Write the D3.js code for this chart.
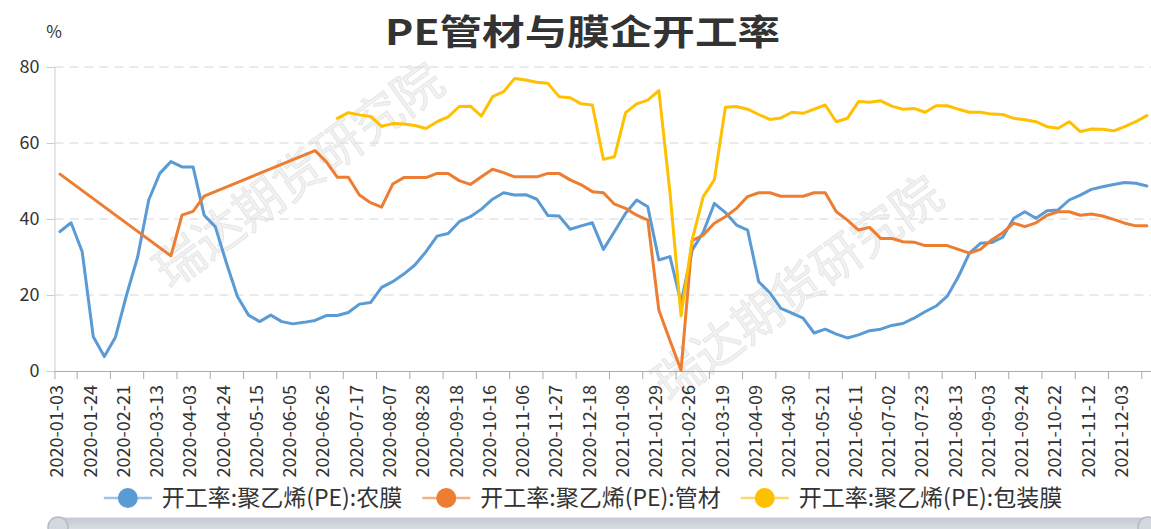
<!DOCTYPE html>
<html>
<head>
<meta charset="utf-8">
<script src="https://cdn.jsdelivr.net/npm/d3@7"></script>
<style>
  body { margin: 0; background: #fff; }
  svg { display: block; }
  text { font-family: "Noto Sans CJK SC", "Noto Sans", sans-serif; }
</style>
</head>
<body>
<svg id="chart" width="1151" height="529"></svg>
<script>
const dates = [
  '2020-01-03','2020-01-10','2020-01-17','2020-01-24','2020-02-07','2020-02-14','2020-02-21','2020-02-28',
  '2020-03-06','2020-03-13','2020-03-20','2020-03-27','2020-04-03','2020-04-10','2020-04-17','2020-04-24',
  '2020-05-01','2020-05-08','2020-05-15','2020-05-22','2020-05-29','2020-06-05','2020-06-12','2020-06-19',
  '2020-06-26','2020-07-03','2020-07-10','2020-07-17','2020-07-24','2020-07-31','2020-08-07','2020-08-14',
  '2020-08-21','2020-08-28','2020-09-04','2020-09-11','2020-09-18','2020-09-25','2020-10-09','2020-10-16',
  '2020-10-23','2020-10-30','2020-11-06','2020-11-13','2020-11-20','2020-11-27','2020-12-04','2020-12-11',
  '2020-12-18','2020-12-25','2021-01-01','2021-01-08','2021-01-15','2021-01-22','2021-01-29','2021-02-05',
  '2021-02-19','2021-02-26','2021-03-05','2021-03-12','2021-03-19','2021-03-26','2021-04-02','2021-04-09',
  '2021-04-16','2021-04-23','2021-04-30','2021-05-07','2021-05-14','2021-05-21','2021-05-28','2021-06-04',
  '2021-06-11','2021-06-18','2021-06-25','2021-07-02','2021-07-09','2021-07-16','2021-07-23','2021-07-30',
  '2021-08-06','2021-08-13','2021-08-20','2021-08-27','2021-09-03','2021-09-10','2021-09-17','2021-09-24',
  '2021-10-08','2021-10-15','2021-10-22','2021-10-29','2021-11-05','2021-11-12','2021-11-19','2021-11-26',
  '2021-12-03','2021-12-10','2021-12-17'
];

// 开工率:聚乙烯(PE):农膜
const nongmo = [
  36.7, 39.0, 31.4, 9.0, 3.8, 8.9, 20, 30, 45, 52,
  55.1, 53.7, 53.7, 41, 38, 28.5, 19.6, 14.7, 13, 14.7,
  13, 12.4, 12.8, 13.3, 14.6, 14.6, 15.4, 17.6, 18.0, 22,
  23.5, 25.5, 27.9, 31.4, 35.5, 36.2, 39.3, 40.6, 42.6, 45.2,
  46.9, 46.3, 46.4, 45.2, 40.9, 40.8, 37.3, 38.2, 39, 32,
  36.7, 41.5, 45, 43.2, 29.2, 30.1, 18, 31.8, 36.5, 44.1,
  41.7, 38.4, 37.1, 23.5, 20.6, 16.5, 15.2, 13.9, 10, 11,
  9.7, 8.7, 9.5, 10.6, 11, 12, 12.5, 13.9, 15.6, 17.1,
  19.7, 24.8, 31, 33.6, 33.8, 35.2, 40.2, 41.9, 40.2, 42.2,
  42.4, 45, 46.3, 47.8, 48.5, 49.1, 49.6, 49.4, 48.7
];

// 开工率:聚乙烯(PE):管材 (gaps are joined straight across)
const guancai = [
  51.8, null, null, null, null, null, null, null, null, null,
  30.3, 41, 42, 46, null, null, null, null, null, null,
  null, null, null, 58, 55.1, 51, 51, 46.3, 44.3, 43.1,
  49.2, 50.9, 50.9, 50.9, 52, 52, 50.1, 49.1, 51.1, 53.1,
  52.2, 51.1, 51.1, 51.1, 52, 52, 50.3, 49, 47.2, 46.9,
  43.9, 42.8, 41, 39.7, 16, 8, 0.2, 34.3, 35.8, 38.9,
  40.6, 42.8, 45.9, 46.9, 46.9, 46, 46, 46, 46.9, 46.9,
  41.9, 39.7, 37.1, 37.8, 34.9, 34.9, 34, 33.9, 33, 33,
  33, 32, 31, 32, 34.5, 36.4, 38.9, 38, 39, 41,
  41.9, 41.9, 41, 41.3, 40.8, 39.9, 38.9, 38.2, 38.2
];

// 开工率:聚乙烯(PE):包装膜
const baozhuang = [
  null, null, null, null, null, null, null, null, null, null,
  null, null, null, null, null, null, null, null, null, null,
  null, null, null, null, null, 66.5, 68, 67.4, 67, 64.4,
  65.1, 65, 64.6, 63.8, 65.6, 66.9, 69.6, 69.7, 67.1, 72.2,
  73.5, 77, 76.6, 76, 75.7, 72.2, 71.9, 70.3, 70, 55.7,
  56.4, 68, 70.3, 71.3, 73.8, 47, 14.5, 34.5, 45.9, 50.3,
  69.4, 69.6, 68.9, 67.5, 66.2, 66.6, 68.1, 67.8, 68.9, 70,
  65.6, 66.5, 70.9, 70.7, 71.1, 69.7, 68.9, 69.1, 68.1, 69.8,
  69.8, 68.9, 68.1, 68.1, 67.6, 67.5, 66.5, 66.1, 65.6, 64.3,
  63.9, 65.6, 63, 63.7, 63.6, 63.2, 64.3, 65.6, 67.2
];

const yTicks = [0, 20, 40, 60, 80];
const seriesNames = ['开工率:聚乙烯(PE):农膜', '开工率:聚乙烯(PE):管材', '开工率:聚乙烯(PE):包装膜'];
const seriesColors = ['#5b9bd5', '#ed7d31', '#ffc000'];
const watermark = '瑞达期货研究院';

const svg = d3.select('#chart');
const plotLeft = 54.45;
const plotRight = 1152.4;
const plotTop = 67;
const plotBottom = 371;

const x = d3.scaleBand().domain(dates).range([plotLeft, plotRight]).padding(0);
const bw = x.bandwidth();
const y = d3.scaleLinear().domain([0, 80]).range([plotBottom, plotTop]);
const edge = d3.scaleLinear().domain([0, dates.length]).range([plotLeft, plotRight]);

// watermark
[[296, 172], [795, 285]].forEach(([cx, cy]) => {
  svg.append('text')
    .attr('transform', `translate(${cx},${cy}) rotate(-36)`)
    .attr('text-anchor', 'middle')
    .attr('dominant-baseline', 'central')
    .attr('font-size', '49px')
    .attr('fill', '#f1f1f1')
    .attr('stroke', '#e4e4e4')
    .attr('stroke-width', 0.8)
    .text(watermark);
});

// grid
svg.append('g')
  .selectAll('line')
  .data(yTicks.filter(d => d > 0))
  .join('line')
  .attr('x1', plotLeft)
  .attr('x2', plotRight)
  .attr('y1', d => y(d))
  .attr('y2', d => y(d))
  .attr('stroke', '#d6d6d6')
  .attr('stroke-width', 1)
  .attr('stroke-dasharray', '9,6');

// y axis
const yAxis = svg.append('g')
  .attr('transform', `translate(${plotLeft},0)`)
  .call(d3.axisLeft(y).tickValues(yTicks).tickSize(8).tickPadding(7));
yAxis.select('.domain').attr('stroke', '#cccccc');
yAxis.selectAll('.tick line').attr('stroke', '#cccccc');
yAxis.selectAll('.tick text')
  .attr('fill', '#333')
  .attr('font-size', '18px')
  .attr('font-family', '"Noto Sans", sans-serif');

svg.append('text')
  .attr('x', 54)
  .attr('y', 38)
  .attr('text-anchor', 'middle')
  .attr('fill', '#333')
  .attr('font-size', '17px')
  .attr('font-family', '"Noto Sans", sans-serif')
  .text('%');

// x axis: ticks on category edges, labels on every 3rd category
const xTicks = svg.append('g')
  .attr('transform', `translate(0,${plotBottom})`)
  .call(d3.axisBottom(edge).tickValues(d3.range(2, dates.length + 1, 3)).tickSize(8).tickFormat(''));
xTicks.select('.domain').attr('stroke', '#aaaaaa');
xTicks.selectAll('.tick line').attr('stroke', '#aaaaaa');

const xLabels = svg.append('g')
  .attr('transform', `translate(0,${plotBottom})`)
  .call(d3.axisBottom(x).tickValues(dates.filter((d, i) => i % 3 === 0)).tickSize(0));
xLabels.select('.domain').remove();
xLabels.selectAll('.tick text')
  .attr('transform', 'rotate(-90)')
  .attr('text-anchor', 'end')
  .attr('x', -14)
  .attr('y', -3)
  .attr('dy', '0.35em')
  .attr('fill', '#333')
  .attr('font-size', '18px')
  .attr('font-family', '"Noto Sans", sans-serif');

// series lines
const line = d3.line()
  .x(d => x(d.date) + bw / 2)
  .y(d => y(d.v));

[nongmo, guancai, baozhuang].forEach((vals, k) => {
  const pts = dates.map((date, i) => ({ date, v: vals[i] })).filter(d => d.v !== null);
  svg.append('path')
    .datum(pts)
    .attr('d', line)
    .attr('fill', 'none')
    .attr('stroke', seriesColors[k])
    .attr('stroke-width', 3)
    .attr('stroke-linejoin', 'round')
    .attr('stroke-linecap', 'round');
});

// title
svg.append('text')
  .attr('x', 582.5)
  .attr('y', 45)
  .attr('text-anchor', 'middle')
  .attr('font-size', '35px')
  .attr('font-weight', 'bold')
  .attr('fill', '#333')
  .attr('textLength', 395)
  .attr('lengthAdjust', 'spacingAndGlyphs')
  .text('PE管材与膜企开工率');

// legend
const legendY = 498;
const legend = svg.append('g');
const items = legend.selectAll('g')
  .data(seriesNames)
  .join('g');
items.append('line')
  .attr('x1', 0).attr('x2', 48)
  .attr('y1', legendY).attr('y2', legendY)
  .attr('stroke', (d, i) => seriesColors[i])
  .attr('stroke-width', 2.5)
  .attr('stroke-opacity', 0.6);
items.append('circle')
  .attr('cx', 24).attr('cy', legendY)
  .attr('r', 10)
  .attr('fill', (d, i) => seriesColors[i]);
items.append('text')
  .attr('x', 58)
  .attr('y', legendY)
  .attr('dy', '0.35em')
  .attr('fill', '#333')
  .attr('font-size', '23px')
  .text(d => d);

let cursor = 0;
items.each(function () {
  const g = d3.select(this);
  g.attr('transform', `translate(${cursor},0)`);
  cursor += 58 + g.select('text').node().getComputedTextLength() + 20;
});
const legendW = cursor - 20;
legend.attr('transform', `translate(${583 - legendW / 2},0)`);

// data zoom slider (cut off at the bottom)
const grad = svg.append('defs').append('linearGradient')
  .attr('id', 'slider-grad').attr('x1', 0).attr('x2', 0).attr('y1', 0).attr('y2', 1);
grad.append('stop').attr('offset', '0%').attr('stop-color', '#c3c9d3');
grad.append('stop').attr('offset', '100%').attr('stop-color', '#e4e7ec');
svg.append('rect')
  .attr('x', 56).attr('y', 518)
  .attr('width', 1090).attr('height', 16)
  .attr('fill', 'url(#slider-grad)')
  .attr('stroke', '#c8cdd6');
[58, 1148].forEach(cx => {
  svg.append('circle')
    .attr('cx', cx).attr('cy', 527)
    .attr('r', 10)
    .attr('fill', '#d4d8df')
    .attr('stroke', '#b5bcc7')
    .attr('stroke-width', 1.5);
});
</script>
</body>
</html>
